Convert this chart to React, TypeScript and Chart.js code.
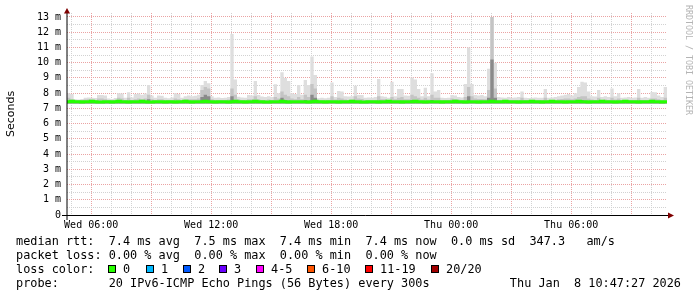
import React, { useEffect, useRef } from "react";
import { Chart, registerables } from "chart.js";

Chart.register(...registerables);

// ---- time base (hours since Wed 00:00) ----
const START_HOUR = 4 + 47 / 60 + 27 / 3600; // Wed 04:47:27
const SPAN_HOURS = 30;
const STEP_HOURS = 1 / 6; // 10 minute samples

// ---- axis ticks ----
const X_GRID_HOURS = [5, 6, 7, 8, 9, 10, 11, 12, 13, 14, 15, 16, 17, 18, 19, 20, 21, 22, 23, 24, 25, 26, 27, 28, 29, 30, 31, 32, 33, 34];
const X_LABEL_HOURS = [6, 12, 18, 24, 30];
const X_LABELS = ["Wed 06:00", "Wed 12:00", "Wed 18:00", "Thu 00:00", "Thu 06:00"];
const Y_GRID_VALUES = [0, 0.5, 1, 1.5, 2, 2.5, 3, 3.5, 4, 4.5, 5, 5.5, 6, 6.5, 7, 7.5, 8, 8.5, 9, 9.5, 10, 10.5, 11, 11.5, 12, 12.5, 13];
const Y_LABEL_VALUES = [0, 1, 2, 3, 4, 5, 6, 7, 8, 9, 10, 11, 12, 13];
const Y_LABELS = ["0", "1 m", "2 m", "3 m", "4 m", "5 m", "6 m", "7 m", "8 m", "9 m", "10 m", "11 m", "12 m", "13 m"];
const Y_MAX = 13.26;

// ---- series (ms) ----
const SMOKE_MIN = 7.32;
const smokeMax = [
  8.0, 7.95, 7.6, 7.58, 7.62, 7.7, 7.72, 7.7, 7.68, 7.88,
  7.88, 7.85, 7.65, 7.62, 7.68, 8.0, 7.98, 7.7, 8.05, 7.72,
  7.95, 7.98, 7.9, 7.98, 8.54, 7.85, 7.7, 7.85, 7.82, 7.7,
  7.66, 7.72, 8.0, 7.95, 7.7, 7.8, 7.85, 7.8, 7.82, 7.9,
  8.54, 8.8, 8.65, 7.8, 7.7, 7.72, 7.68, 7.7, 7.75, 11.88,
  8.9, 7.77, 7.72, 7.7, 7.88, 7.85, 8.8, 7.88, 7.78, 7.75,
  7.8, 7.75, 8.58, 8.0, 9.37, 9.0, 8.8, 8.0, 7.95, 8.54,
  7.9, 8.86, 8.54, 10.4, 9.19, 7.66, 7.7, 7.66, 7.7, 8.69,
  7.75, 8.14, 8.1, 7.8, 7.78, 7.8, 8.49, 7.88, 7.88, 7.7,
  7.72, 7.7, 7.75, 8.93, 7.8, 7.77, 7.7, 8.75, 7.8, 8.27,
  8.27, 7.85, 7.82, 9.02, 8.9, 8.27, 7.8, 8.36, 7.8, 9.3,
  8.1, 8.2, 7.7, 7.68, 7.7, 7.88, 7.85, 7.75, 7.72, 8.6,
  11.0, 8.6, 7.88, 7.85, 7.88, 7.8, 9.6, 13.0, 10.0, 7.75,
  7.72, 7.7, 7.75, 7.7, 7.72, 7.75, 8.1, 7.7, 7.68, 7.7,
  7.72, 7.7, 7.7, 8.27, 7.7, 7.72, 7.75, 7.8, 7.85, 7.9,
  7.95, 7.85, 8.0, 8.4, 8.75, 8.7, 8.1, 7.8, 7.78, 8.2,
  7.75, 7.8, 7.75, 8.3, 7.8, 8.0, 7.7, 7.72, 7.75, 7.7,
  7.72, 8.27, 7.7, 7.75, 7.7, 8.07, 8.05, 7.85, 7.75, 8.4,
];
const smokeMid = [
  7.7, 7.6, 7.55, 7.55, 7.55, 7.58, 7.6, 7.58, 7.55, 7.65,
  7.65, 7.6, 7.55, 7.55, 7.55, 7.7, 7.65, 7.55, 7.7, 7.55,
  7.6, 7.65, 7.6, 7.65, 7.9, 7.6, 7.55, 7.6, 7.6, 7.55,
  7.55, 7.55, 7.65, 7.6, 7.55, 7.6, 7.6, 7.6, 7.6, 7.65,
  8.2, 8.4, 8.3, 7.6, 7.55, 7.55, 7.55, 7.55, 7.58, 8.3,
  7.9, 7.6, 7.55, 7.55, 7.6, 7.6, 7.8, 7.6, 7.55, 7.55,
  7.58, 7.55, 7.75, 7.65, 8.1, 7.9, 7.8, 7.65, 7.6, 7.75,
  7.6, 7.9, 7.75, 8.6, 8.3, 7.55, 7.55, 7.55, 7.55, 7.8,
  7.58, 7.7, 7.65, 7.58, 7.55, 7.58, 7.8, 7.65, 7.62, 7.55,
  7.55, 7.55, 7.55, 7.8, 7.6, 7.6, 7.55, 7.75, 7.6, 7.7,
  7.75, 7.6, 7.6, 7.9, 7.8, 7.7, 7.58, 7.7, 7.58, 7.9,
  7.7, 7.7, 7.55, 7.55, 7.55, 7.65, 7.62, 7.58, 7.55, 7.75,
  8.4, 7.8, 7.65, 7.62, 7.62, 7.6, 8.2, 13.0, 8.3, 7.55,
  7.55, 7.55, 7.55, 7.55, 7.55, 7.55, 7.7, 7.55, 7.55, 7.55,
  7.55, 7.55, 7.55, 7.7, 7.55, 7.55, 7.55, 7.6, 7.62, 7.65,
  7.65, 7.6, 7.65, 7.75, 7.8, 7.8, 7.65, 7.58, 7.55, 7.7,
  7.55, 7.58, 7.55, 7.7, 7.58, 7.65, 7.55, 7.55, 7.55, 7.55,
  7.55, 7.7, 7.55, 7.55, 7.55, 7.65, 7.65, 7.6, 7.55, 7.7,
];
const smokeDark = [
  7.45, 7.45, 7.45, 7.45, 7.45, 7.45, 7.45, 7.45, 7.45, 7.45,
  7.45, 7.45, 7.45, 7.45, 7.45, 7.45, 7.45, 7.45, 7.45, 7.45,
  7.45, 7.45, 7.45, 7.45, 7.6, 7.45, 7.45, 7.45, 7.45, 7.45,
  7.45, 7.45, 7.45, 7.45, 7.45, 7.45, 7.45, 7.45, 7.45, 7.45,
  7.75, 7.9, 7.8, 7.45, 7.45, 7.45, 7.45, 7.45, 7.45, 7.8,
  7.45, 7.45, 7.45, 7.45, 7.45, 7.45, 7.5, 7.45, 7.45, 7.45,
  7.45, 7.45, 7.45, 7.45, 7.7, 7.55, 7.5, 7.45, 7.45, 7.45,
  7.45, 7.55, 7.45, 7.9, 7.7, 7.45, 7.45, 7.45, 7.45, 7.45,
  7.45, 7.45, 7.45, 7.45, 7.45, 7.45, 7.5, 7.45, 7.45, 7.45,
  7.45, 7.45, 7.45, 7.5, 7.45, 7.45, 7.45, 7.45, 7.45, 7.45,
  7.5, 7.45, 7.45, 7.55, 7.5, 7.45, 7.45, 7.45, 7.45, 7.55,
  7.45, 7.45, 7.45, 7.45, 7.45, 7.45, 7.45, 7.45, 7.45, 7.45,
  7.8, 7.45, 7.45, 7.45, 7.45, 7.45, 7.7, 10.2, 7.7, 7.45,
  7.45, 7.45, 7.45, 7.45, 7.45, 7.45, 7.45, 7.45, 7.45, 7.45,
  7.45, 7.45, 7.45, 7.45, 7.45, 7.45, 7.45, 7.45, 7.45, 7.45,
  7.45, 7.45, 7.45, 7.5, 7.55, 7.5, 7.45, 7.45, 7.45, 7.45,
  7.45, 7.45, 7.45, 7.45, 7.45, 7.45, 7.45, 7.45, 7.45, 7.45,
  7.45, 7.5, 7.45, 7.45, 7.45, 7.45, 7.45, 7.45, 7.45, 7.45,
];
const medianRtt = [
  7.44, 7.46, 7.44, 7.44, 7.42, 7.44, 7.44, 7.46, 7.44, 7.42,
  7.42, 7.44, 7.44, 7.42, 7.44, 7.46, 7.44, 7.44, 7.42, 7.44,
  7.44, 7.44, 7.46, 7.44, 7.42, 7.42, 7.44, 7.44, 7.44, 7.42,
  7.44, 7.44, 7.42, 7.44, 7.44, 7.46, 7.44, 7.42, 7.44, 7.44,
  7.44, 7.46, 7.44, 7.44, 7.42, 7.44, 7.44, 7.44, 7.42, 7.44,
  7.46, 7.44, 7.44, 7.42, 7.44, 7.44, 7.46, 7.44, 7.44, 7.42,
  7.42, 7.44, 7.44, 7.44, 7.46, 7.44, 7.42, 7.44, 7.44, 7.44,
  7.44, 7.44, 7.42, 7.44, 7.46, 7.44, 7.44, 7.42, 7.44, 7.44,
  7.44, 7.42, 7.44, 7.44, 7.44, 7.46, 7.44, 7.44, 7.42, 7.42,
  7.44, 7.44, 7.44, 7.42, 7.44, 7.44, 7.46, 7.44, 7.44, 7.44,
  7.42, 7.44, 7.44, 7.44, 7.46, 7.44, 7.44, 7.42, 7.44, 7.44,
  7.44, 7.44, 7.42, 7.44, 7.44, 7.44, 7.46, 7.44, 7.44, 7.42,
  7.44, 7.44, 7.44, 7.42, 7.44, 7.44, 7.44, 7.46, 7.44, 7.44,
  7.44, 7.46, 7.44, 7.44, 7.44, 7.42, 7.44, 7.44, 7.44, 7.46,
  7.44, 7.44, 7.42, 7.44, 7.44, 7.46, 7.44, 7.44, 7.44, 7.42,
  7.44, 7.44, 7.44, 7.46, 7.44, 7.44, 7.42, 7.44, 7.44, 7.44,
  7.46, 7.44, 7.44, 7.44, 7.42, 7.44, 7.44, 7.46, 7.44, 7.44,
  7.44, 7.42, 7.44, 7.44, 7.44, 7.46, 7.44, 7.44, 7.42, 7.44,
];

// ---- legend texts ----
const LEGEND_RTT = "median rtt:  7.4 ms avg  7.5 ms max  7.4 ms min  7.4 ms now  0.0 ms sd  347.3   am/s";
const LEGEND_LOSS = "packet loss: 0.00 % avg  0.00 % max  0.00 % min  0.00 % now";
const LOSS_TITLE = "loss color:";
const LOSS_LABELS = ["0", "1", "2", "3", "4-5", "6-10", "11-19", "20/20"];
const LOSS_COLORS = ["#26ff00", "#00b8ff", "#0059ff", "#6a00ff", "#ff00ff", "#ff5500", "#ff0000", "#a10000"];
const PROBE_TEXT = "probe:       20 IPv6-ICMP Echo Pings (56 Bytes) every 300s";
const DATE_TEXT = "Thu Jan  8 10:47:27 2026";
const Y_TITLE = "Seconds";
const WATERMARK = "RRDTOOL / TOBI OETIKER";

const toPoints = (arr: number[]) => {
  const pts = arr.map((v, i) => ({ x: START_HOUR + i * STEP_HOURS, y: v }));
  pts.push({ x: START_HOUR + SPAN_HOURS, y: arr[arr.length - 1] });
  return pts;
};

const MONO = '"DejaVu Sans Mono", monospace';

const decor = {
  id: "decor",
  afterDraw(chart: any) {
    const ctx = chart.ctx as CanvasRenderingContext2D;
    const a = chart.chartArea;
    ctx.save();
    // axes
    ctx.strokeStyle = "#000";
    ctx.lineWidth = 1;
    ctx.beginPath();
    ctx.moveTo(62, a.bottom + 0.5);
    ctx.lineTo(a.right + 2, a.bottom + 0.5);
    ctx.stroke();
    ctx.beginPath();
    ctx.moveTo(a.left, a.bottom + 5);
    ctx.lineTo(a.left, a.top - 1);
    ctx.stroke();
    // arrows
    ctx.fillStyle = "#7f0000";
    ctx.beginPath();
    ctx.moveTo(a.left, a.top - 5);
    ctx.lineTo(a.left - 3, a.top + 0.5);
    ctx.lineTo(a.left + 3, a.top + 0.5);
    ctx.closePath();
    ctx.fill();
    ctx.beginPath();
    ctx.moveTo(a.right + 7, a.bottom + 0.5);
    ctx.lineTo(a.right + 1, a.bottom - 2.5);
    ctx.lineTo(a.right + 1, a.bottom + 3.5);
    ctx.closePath();
    ctx.fill();

    // y title
    ctx.fillStyle = "#000";
    ctx.save();
    ctx.translate(11, (a.top + a.bottom) / 2);
    ctx.rotate(-Math.PI / 2);
    ctx.font = '11px "DejaVu Sans", sans-serif';
    ctx.textAlign = "center";
    ctx.textBaseline = "middle";
    ctx.fillText(Y_TITLE, 0, 0);
    ctx.restore();

    // watermark
    ctx.save();
    ctx.translate(688, 5);
    ctx.rotate(Math.PI / 2);
    ctx.font = "8.3px " + MONO;
    ctx.fillStyle = "#b4b4b4";
    ctx.textAlign = "left";
    ctx.textBaseline = "middle";
    ctx.fillText(WATERMARK, 0, 0);
    ctx.restore();

    // legend
    ctx.font = "11.85px " + MONO;
    ctx.fillStyle = "#000";
    ctx.textBaseline = "alphabetic";
    ctx.textAlign = "left";
    ctx.fillText(LEGEND_RTT, 16, 245);
    ctx.fillText(LEGEND_LOSS, 16, 259);
    ctx.fillText(LOSS_TITLE, 16, 273);
    const boxX = [108, 146, 183, 219, 256, 307, 365, 431];
    LOSS_LABELS.forEach((lab, i) => {
      ctx.fillStyle = LOSS_COLORS[i];
      ctx.fillRect(boxX[i], 265, 8, 8);
      ctx.strokeStyle = "#000";
      ctx.lineWidth = 1;
      ctx.strokeRect(boxX[i] + 0.5, 265.5, 7, 7);
      ctx.fillStyle = "#000";
      ctx.fillText(lab, boxX[i] + 15, 273);
    });
    ctx.fillText(PROBE_TEXT, 16, 286.5);
    ctx.textAlign = "right";
    ctx.fillText(DATE_TEXT, 681, 286.5);
    ctx.restore();
  },
};

export default function App() {
  const ref = useRef<HTMLCanvasElement | null>(null);
  useEffect(() => {
    if (!ref.current) return;
    const common = { pointRadius: 0, pointHoverRadius: 0, stepped: "before" as const, tension: 0 };
    const chart = new Chart(ref.current, {
      type: "line",
      data: {
        datasets: [
          { ...common, data: toPoints(medianRtt), borderColor: "#26ff00", borderWidth: 3, fill: false },
          { ...common, data: toPoints(smokeDark), borderWidth: 0, borderColor: "rgba(0,0,0,0)", backgroundColor: "#8a8a8a", fill: { value: SMOKE_MIN } },
          { ...common, data: toPoints(smokeMid), borderWidth: 0, borderColor: "rgba(0,0,0,0)", backgroundColor: "#c4c4c4", fill: { value: SMOKE_MIN } },
          { ...common, data: toPoints(smokeMax), borderWidth: 0, borderColor: "rgba(0,0,0,0)", backgroundColor: "#dedede", fill: { value: SMOKE_MIN } },
        ],
      },
      options: {
        animation: false,
        responsive: false,
        maintainAspectRatio: false,
        devicePixelRatio: 1,
        events: [],
        layout: { padding: { left: 0, right: 30, top: 13, bottom: 0 } },
        plugins: { legend: { display: false }, tooltip: { enabled: false } },
        scales: {
          x: {
            type: "linear",
            min: START_HOUR,
            max: START_HOUR + SPAN_HOURS,
            afterBuildTicks: (s: any) => {
              s.ticks = X_GRID_HOURS.map((v) => ({ value: v }));
            },
            afterFit: (s: any) => {
              s.height = 82;
            },
            grid: {
              drawTicks: false,
              lineWidth: 1,
              color: (c: any) => (c.tick && c.tick.value % 3 === 0 ? "#eaa3a3" : "#d2d2d2"),
            },
            border: { display: false, dash: [1, 1] },
            ticks: {
              autoSkip: false,
              maxRotation: 0,
              padding: 4,
              color: "#000",
              font: { family: MONO, size: 10 },
              callback: (v: any) => {
                const k = X_LABEL_HOURS.indexOf(Number(v));
                return k >= 0 ? X_LABELS[k] : "";
              },
            },
          },
          y: {
            type: "linear",
            min: 0,
            max: Y_MAX,
            afterBuildTicks: (s: any) => {
              s.ticks = Y_GRID_VALUES.map((v) => ({ value: v }));
            },
            afterFit: (s: any) => {
              s.width = 67;
            },
            grid: {
              drawTicks: false,
              lineWidth: 1,
              color: (c: any) => (c.tick && Number.isInteger(c.tick.value) ? "#eaa3a3" : "#d2d2d2"),
            },
            border: { display: false, dash: [1, 1] },
            ticks: {
              autoSkip: false,
              padding: 6,
              color: "#000",
              font: { family: MONO, size: 10 },
              callback: (v: any) => {
                const k = Y_LABEL_VALUES.indexOf(Number(v));
                return k >= 0 ? Y_LABELS[k] : "";
              },
            },
          },
        },
      },
      plugins: [decor],
    });
    return () => chart.destroy();
  }, []);
  return (
    <div style={{ position: "absolute", left: 0, top: 0, width: 697, height: 297, background: "#fff" }}>
      <canvas ref={ref} width={697} height={297} style={{ display: "block" }} />
    </div>
  );
}
